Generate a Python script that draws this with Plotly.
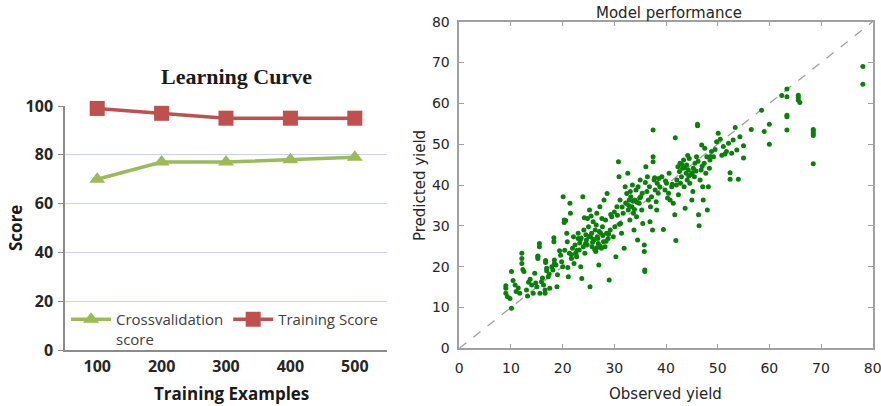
import plotly.graph_objects as go

# ---------------- Learning curve data ----------------
train_sizes = ["100", "200", "300", "400", "500"]
cv_score = [70, 77, 77, 78, 79]
train_score = [99, 97, 95, 95, 95]
score_ticks = [0, 20, 40, 60, 80, 100]

# ---------------- Model performance data ----------------
observed = [
    9.0, 9.0, 9.0, 9.3, 9.8, 10.1, 10.1, 10.8, 11.0, 11.7, 12.1, 12.1, 12.1, 12.3, 12.5,
    13.0, 13.4, 13.7, 14.0, 14.3, 14.6, 15.0, 15.2, 15.2, 15.2, 15.5, 15.5, 15.6, 15.9, 16.3,
    16.6, 16.6, 16.7, 16.7, 16.9, 16.9, 17.2, 17.5, 17.9, 18.1, 18.3, 18.3, 18.4, 18.4, 18.7,
    18.9, 19.4, 19.8, 20.0, 20.1, 20.3, 20.3, 20.6, 20.8, 20.9, 21.1, 21.3, 21.4, 21.5, 21.7,
    21.7, 21.9, 22.1, 22.2, 22.4, 22.5, 22.7, 23.0, 23.0, 23.2, 23.4, 23.5, 23.7, 23.9, 24.0,
    24.1, 24.3, 24.5, 24.6, 24.8, 25.0, 25.2, 25.3, 25.4, 25.6, 25.7, 25.9, 26.1, 26.3, 26.4,
    26.6, 26.7, 26.9, 27.0, 27.2, 27.4, 27.5, 27.7, 27.9, 28.0, 28.2, 28.3, 28.5, 28.6, 28.8,
    29.0, 29.2, 29.5, 29.8, 30.1, 30.3, 30.5, 30.8, 30.9, 31.1, 31.2, 31.4, 31.7, 31.9, 32.1,
    32.3, 32.4, 32.6, 32.7, 32.9, 33.0, 33.2, 33.4, 33.5, 33.7, 33.8, 34.0, 34.2, 34.3, 34.5,
    34.6, 34.8, 35.0, 35.1, 35.3, 35.5, 35.8, 35.8, 35.9, 35.9, 36.1, 36.3, 36.4, 36.6, 36.8,
    36.9, 37.0, 37.2, 37.4, 37.5, 37.5, 37.5, 37.7, 37.9, 38.1, 38.2, 38.3, 38.5, 38.8, 39.2,
    39.5, 39.8, 40.1, 40.5, 40.6, 40.8, 41.1, 41.4, 41.7, 41.8, 41.9, 42.1, 42.3, 42.4, 42.6,
    42.7, 42.8, 43.0, 43.2, 43.4, 43.5, 43.7, 43.9, 44.0, 44.1, 44.3, 44.5, 44.6, 45.0, 45.2,
    45.3, 45.5, 45.6, 45.9, 46.1, 46.1, 46.3, 46.4, 46.6, 46.8, 46.9, 47.1, 47.2, 47.4, 47.5,
    47.7, 47.9, 48.0, 48.2, 48.4, 48.5, 48.8, 49.2, 49.5, 49.8, 50.1, 50.5, 50.8, 51.1, 51.4,
    51.7, 52.1, 52.4, 52.4, 52.7, 53.0, 53.4, 53.7, 54.0, 54.3, 55.0, 55.0, 56.5, 58.5, 59.0,
    60.0, 60.0, 62.4, 63.4, 63.4, 63.4, 63.4, 63.4, 65.6, 65.6, 65.6, 65.9, 68.5, 68.5, 68.5,
    68.5, 68.5, 78.1, 78.1,
    # extra points in dense core
    22.8, 23.6, 24.4, 25.1, 25.8, 26.2, 26.8, 27.3, 27.8, 28.4, 24.2, 25.5, 26.5, 27.6, 28.9,
    19.0, 19.6, 20.4, 21.0, 17.4, 16.1, 14.8, 13.2, 11.4, 10.4, 30.0, 31.5, 32.8, 33.9, 34.9,
    33.1, 34.4, 32.2, 30.6, 36.0, 38.6, 39.9, 41.2, 43.1, 44.8, 45.8, 47.0, 42.0, 40.3, 44.2,
    24.7, 25.9, 26.6, 27.1, 23.3, 29.3, 31.0, 33.6, 35.4, 37.8, 43.6, 44.4, 45.1, 46.2, 48.6,
]
predicted = [
    15.3, 14.7, 13.5, 12.7, 12.2, 18.8, 9.8, 15.5, 13.9, 13.5, 23.3, 22.0, 20.8, 19.3, 18.8,
    14.3, 16.2, 16.9, 15.5, 13.5, 18.4, 15.1, 22.6, 22.4, 22.0, 25.7, 24.9, 13.5, 16.3, 15.5,
    13.5, 14.3, 21.5, 21.0, 19.6, 19.0, 17.5, 14.7, 20.0, 19.2, 27.1, 26.1, 21.6, 20.8, 20.4,
    15.1, 23.9, 21.2, 20.0, 37.1, 31.4, 30.8, 31.3, 28.2, 26.1, 17.5, 23.3, 35.5, 33.1, 22.9,
    22.0, 24.5, 27.3, 20.8, 25.3, 23.3, 22.4, 28.2, 26.9, 24.1, 26.5, 20.0, 17.1, 37.1, 24.9,
    29.0, 23.3, 27.8, 26.5, 31.8, 29.8, 33.9, 15.1, 27.3, 28.2, 24.9, 31.0, 26.5, 29.0, 23.7,
    33.1, 27.3, 25.7, 20.4, 34.7, 28.2, 24.5, 29.8, 26.1, 36.3, 24.9, 31.4, 28.2, 37.9, 26.9,
    16.7, 29.0, 32.2, 27.3, 29.8, 22.4, 34.7, 45.7, 42.0, 36.3, 30.6, 28.2, 33.1, 24.5, 39.6,
    35.5, 37.9, 42.9, 33.9, 36.3, 31.4, 37.1, 34.7, 40.0, 33.1, 29.0, 36.3, 38.8, 32.2, 26.5,
    39.6, 35.5, 41.2, 37.1, 33.9, 30.6, 25.3, 23.7, 19.2, 18.8, 44.5, 38.4, 42.0, 36.3, 39.6,
    31.0, 34.7, 37.1, 29.0, 53.5, 46.9, 45.7, 41.2, 38.8, 35.9, 33.9, 40.4, 38.0, 39.6, 42.0,
    29.1, 38.8, 40.4, 38.0, 42.9, 36.3, 39.6, 35.5, 32.7, 51.6, 26.4, 41.2, 44.5, 37.6, 43.3,
    45.3, 40.4, 42.0, 44.1, 46.1, 39.6, 34.3, 42.9, 44.9, 41.2, 43.7, 46.5, 40.4, 36.3, 38.4,
    44.1, 42.0, 45.3, 46.9, 54.9, 54.5, 32.7, 30.0, 41.2, 43.7, 49.8, 39.6, 36.3, 45.3, 49.0,
    42.9, 46.9, 33.9, 39.6, 44.1, 46.1, 48.2, 46.9, 48.7, 50.6, 52.7, 51.2, 47.3, 49.4, 47.6,
    48.2, 50.2, 43.0, 41.4, 47.8, 51.0, 54.1, 48.6, 41.4, 51.8, 49.6, 46.6, 53.6, 58.3, 53.1,
    54.9, 50.0, 61.9, 63.5, 61.6, 57.1, 56.7, 53.5, 62.0, 61.5, 60.8, 60.2, 53.6, 53.2, 52.7,
    52.1, 45.2, 69.0, 64.7,
    # extra points in dense core
    24.0, 27.0, 25.6, 27.4, 26.0, 24.2, 26.9, 25.0, 27.6, 26.2, 32.0, 32.4, 30.2, 31.8, 28.0,
    18.0, 22.8, 24.0, 19.8, 18.2, 17.2, 16.0, 12.8, 14.8, 16.6, 33.4, 34.6, 35.0, 34.0, 36.8,
    38.4, 35.8, 35.6, 32.6, 40.6, 41.6, 41.0, 40.2, 45.0, 42.6, 43.4, 44.6, 40.0, 36.8, 47.2,
    25.4, 26.7, 24.6, 28.6, 25.8, 32.8, 30.4, 36.0, 38.0, 41.8, 44.2, 42.2, 43.0, 45.8, 47.0,
]
axis_ticks = [0, 10, 20, 30, 40, 50, 60, 70, 80]
diag = [0, 80]

RED = "#c0504d"
GREEN = "#9bbb59"

fig = go.Figure()

# Learning curve traces
fig.add_trace(go.Scatter(
    x=train_sizes, y=cv_score, mode="lines+markers",
    name="Crossvalidation<br>score",
    line=dict(color=GREEN, width=3.5),
    marker=dict(symbol="triangle-up", size=14, color=GREEN),
    xaxis="x", yaxis="y", cliponaxis=False,
))
fig.add_trace(go.Scatter(
    x=train_sizes, y=train_score, mode="lines+markers",
    name="Training Score",
    line=dict(color=RED, width=3.5),
    marker=dict(symbol="square", size=15, color=RED),
    xaxis="x", yaxis="y", cliponaxis=False,
))

# Model performance traces
fig.add_trace(go.Scatter(
    x=diag, y=diag, mode="lines", showlegend=False,
    line=dict(color="#a0a0a0", width=1.3, dash="dash"),
    xaxis="x2", yaxis="y2", hoverinfo="skip",
))
fig.add_trace(go.Scatter(
    x=observed, y=predicted, mode="markers", showlegend=False,
    marker=dict(color="#0a800a", size=5, line=dict(width=0)),
    xaxis="x2", yaxis="y2",
))

W, H = 881, 406

def px_x(p):
    return p / W

def px_y(p):
    return 1 - p / H

tick_font_right = dict(family="DejaVu Sans, sans-serif", size=14, color="#262626")
bold_left = dict(family="Open Sans, sans-serif", size=16, color="#262626", weight="bold")

fig.update_layout(
    width=W, height=H,
    margin=dict(l=0, r=0, t=0, b=0, autoexpand=False),
    paper_bgcolor="white", plot_bgcolor="white",
    showlegend=True,
    legend=dict(
        orientation="h", x=px_x(66), y=px_y(303), xanchor="left", yanchor="top",
        font=dict(family="Open Sans, Liberation Sans, sans-serif", size=15, color="#404040"),
        bgcolor="rgba(0,0,0,0)", itemwidth=40, tracegroupgap=0, valign="top",
    ),
    xaxis=dict(
        domain=[px_x(65), px_x(387)], anchor="y", automargin=False,
        type="category", range=[-0.5, 4.5],
        showgrid=False, showline=True, linecolor="#8c8c8c", linewidth=1.5,
        ticks="", tickfont=bold_left, ticklabelstandoff=1,
    ),
    yaxis=dict(
        domain=[px_y(350), px_y(106)], anchor="x", automargin=False,
        range=[0, 100], tickvals=score_ticks,
        showgrid=True, gridcolor="#c9d6f0", gridwidth=1,
        showline=True, linecolor="#8c8c8c", linewidth=1.5,
        ticks="outside", ticklen=5, tickcolor="#8c8c8c",
        tickfont=bold_left, zeroline=False, ticklabelstandoff=2,
    ),
    xaxis2=dict(
        domain=[px_x(459.3), px_x(872.7)], anchor="y2", automargin=False,
        range=[0, 80], tickvals=axis_ticks, ticklabeloverflow="allow",
        showgrid=False, zeroline=False,
        showline=True, linecolor="#a0a0a0", linewidth=1.5, mirror="allticks",
        ticks="inside", ticklen=5, tickcolor="#a0a0a0",
        tickfont=tick_font_right, ticklabelstandoff=6,
    ),
    yaxis2=dict(
        domain=[px_y(348.3), px_y(21.7)], anchor="x2", automargin=False,
        range=[0, 80], tickvals=axis_ticks, ticklabeloverflow="allow",
        showgrid=False, zeroline=False,
        showline=True, linecolor="#a0a0a0", linewidth=1.5, mirror="allticks",
        ticks="inside", ticklen=5, tickcolor="#a0a0a0",
        tickfont=tick_font_right, ticklabelstandoff=5,
    ),
    annotations=[
        dict(text="<b>Learning Curve</b>", x=px_x(236), y=px_y(76), xref="paper", yref="paper",
             showarrow=False, xanchor="center", yanchor="middle",
             font=dict(family="Liberation Serif, serif", size=22, color="#1a1a1a")),
        dict(text="<b>Score</b>", x=px_x(15), y=px_y(228), xref="paper", yref="paper",
             showarrow=False, textangle=-90, xanchor="center", yanchor="middle",
             font=dict(family="Open Sans, sans-serif", size=17, color="#1a1a1a")),
        dict(text="<b>Training Examples</b>", x=px_x(231), y=px_y(393), xref="paper", yref="paper",
             showarrow=False, xanchor="center", yanchor="middle",
             font=dict(family="Open Sans, sans-serif", size=17, color="#1a1a1a")),
        dict(text="Model performance", x=px_x(669), y=px_y(13), xref="paper", yref="paper",
             showarrow=False, xanchor="center", yanchor="middle",
             font=dict(family="DejaVu Sans, sans-serif", size=15, color="#262626")),
        dict(text="Observed yield", x=px_x(665), y=px_y(394), xref="paper", yref="paper",
             showarrow=False, xanchor="center", yanchor="middle",
             font=dict(family="DejaVu Sans, sans-serif", size=15, color="#262626")),
        dict(text="Predicted yield", x=px_x(420), y=px_y(186), xref="paper", yref="paper",
             showarrow=False, textangle=-90, xanchor="center", yanchor="middle",
             font=dict(family="DejaVu Sans, sans-serif", size=15, color="#262626")),
    ],
)

fig.write_html("out.html")
